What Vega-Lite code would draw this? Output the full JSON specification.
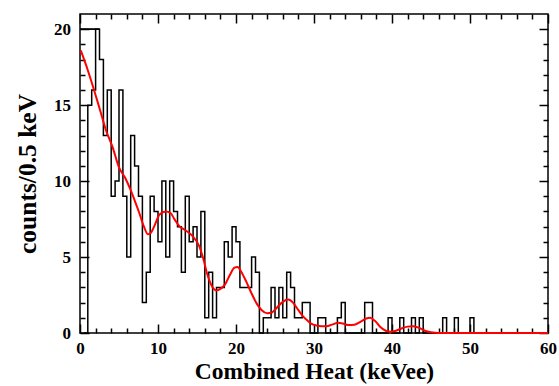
{
  "$schema": "https://vega.github.io/schema/vega-lite/v6.json",
  "width": 468,
  "height": 319,
  "autosize": {"type": "none"},
  "padding": {"left": 80, "top": 14, "right": 11, "bottom": 53},
  "background": "white",
  "config": {
    "view": {"stroke": "black", "strokeWidth": 1.5},
    "axis": {
      "domain": false, "grid": false, "tickColor": "black", "tickWidth": 1.5,
      "labelFont": "Liberation Serif", "labelFontWeight": "bold", "labelFontSize": 17, "labelColor": "black",
      "titleFont": "Liberation Serif", "titleFontWeight": "bold", "titleFontSize": 23.5, "titleColor": "black"
    }
  },
  "datasets": {
    "hist": [
      {"e": 0.5, "c": 0}, {"e": 1.0, "c": 15}, {"e": 1.5, "c": 16}, {"e": 2.0, "c": 20}, {"e": 2.5, "c": 18},
      {"e": 3.0, "c": 13}, {"e": 3.5, "c": 16}, {"e": 4.0, "c": 9}, {"e": 4.5, "c": 10}, {"e": 5.0, "c": 16},
      {"e": 5.5, "c": 9}, {"e": 6.0, "c": 5}, {"e": 6.5, "c": 13}, {"e": 7.0, "c": 11}, {"e": 7.5, "c": 9},
      {"e": 8.0, "c": 2}, {"e": 8.5, "c": 4}, {"e": 9.0, "c": 9}, {"e": 9.5, "c": 8}, {"e": 10.0, "c": 6},
      {"e": 10.5, "c": 10}, {"e": 11.0, "c": 5}, {"e": 11.5, "c": 10}, {"e": 12.0, "c": 8}, {"e": 12.5, "c": 7},
      {"e": 13.0, "c": 4}, {"e": 13.5, "c": 9}, {"e": 14.0, "c": 6}, {"e": 14.5, "c": 7}, {"e": 15.0, "c": 5},
      {"e": 15.5, "c": 8}, {"e": 16.0, "c": 1}, {"e": 16.5, "c": 4}, {"e": 17.0, "c": 1}, {"e": 17.5, "c": 3},
      {"e": 18.0, "c": 3}, {"e": 18.5, "c": 6}, {"e": 19.0, "c": 5}, {"e": 19.5, "c": 7}, {"e": 20.0, "c": 6},
      {"e": 20.5, "c": 3}, {"e": 21.0, "c": 3}, {"e": 21.5, "c": 3}, {"e": 22.0, "c": 5}, {"e": 22.5, "c": 4},
      {"e": 23.0, "c": 0}, {"e": 23.5, "c": 1}, {"e": 24.0, "c": 1}, {"e": 24.5, "c": 3}, {"e": 25.0, "c": 1},
      {"e": 25.5, "c": 3}, {"e": 26.0, "c": 1}, {"e": 26.5, "c": 4}, {"e": 27.0, "c": 3}, {"e": 27.5, "c": 1},
      {"e": 28.0, "c": 1}, {"e": 28.5, "c": 2}, {"e": 29.0, "c": 2}, {"e": 29.5, "c": 0}, {"e": 30.0, "c": 0},
      {"e": 30.5, "c": 1}, {"e": 31.0, "c": 1}, {"e": 31.5, "c": 0}, {"e": 32.0, "c": 0}, {"e": 32.5, "c": 0},
      {"e": 33.0, "c": 1}, {"e": 33.5, "c": 2}, {"e": 34.0, "c": 0}, {"e": 34.5, "c": 0}, {"e": 35.0, "c": 0},
      {"e": 35.5, "c": 0}, {"e": 36.0, "c": 0}, {"e": 36.5, "c": 2}, {"e": 37.0, "c": 2}, {"e": 37.5, "c": 0},
      {"e": 38.0, "c": 0}, {"e": 38.5, "c": 0}, {"e": 39.0, "c": 0}, {"e": 39.5, "c": 1}, {"e": 40.0, "c": 0},
      {"e": 40.5, "c": 0}, {"e": 41.0, "c": 1}, {"e": 41.5, "c": 0}, {"e": 42.0, "c": 0}, {"e": 42.5, "c": 1},
      {"e": 43.0, "c": 0}, {"e": 43.5, "c": 1}, {"e": 44.0, "c": 0}, {"e": 44.5, "c": 0}, {"e": 45.0, "c": 0},
      {"e": 45.5, "c": 0}, {"e": 46.0, "c": 0}, {"e": 46.5, "c": 1}, {"e": 47.0, "c": 0}, {"e": 47.5, "c": 0},
      {"e": 48.0, "c": 1}, {"e": 48.5, "c": 0}, {"e": 49.0, "c": 0}, {"e": 49.5, "c": 0}, {"e": 50.0, "c": 1},
      {"e": 50.5, "c": 0}, {"e": 60.0, "c": 0}
    ],
    "cap": [
      {"e": 0, "c": 20}, {"e": 2.5, "c": 20}
    ],
    "curve": [
      {"e": 0.1, "c": 18.6}, {"e": 1.0, "c": 17.3}, {"e": 1.8, "c": 16.0}, {"e": 2.5, "c": 14.8}, {"e": 3.3, "c": 13.4},
      {"e": 4.2, "c": 12.2}, {"e": 5.0, "c": 10.9}, {"e": 5.8, "c": 10.2}, {"e": 6.5, "c": 9.4}, {"e": 7.1, "c": 8.6},
      {"e": 7.6, "c": 7.9}, {"e": 8.2, "c": 7.0}, {"e": 8.7, "c": 6.5}, {"e": 9.1, "c": 6.6}, {"e": 9.5, "c": 7.0},
      {"e": 10.2, "c": 7.8}, {"e": 11.0, "c": 8.0}, {"e": 11.6, "c": 7.9}, {"e": 12.1, "c": 7.5}, {"e": 12.8, "c": 7.0},
      {"e": 13.4, "c": 6.8}, {"e": 14.4, "c": 6.4}, {"e": 15.3, "c": 5.7}, {"e": 15.8, "c": 4.9}, {"e": 16.3, "c": 3.9},
      {"e": 16.9, "c": 3.1}, {"e": 17.5, "c": 2.8}, {"e": 18.0, "c": 2.9}, {"e": 18.6, "c": 3.2}, {"e": 19.2, "c": 3.8},
      {"e": 19.8, "c": 4.3}, {"e": 20.2, "c": 4.35}, {"e": 20.7, "c": 4.0}, {"e": 21.3, "c": 3.4}, {"e": 22.0, "c": 2.6},
      {"e": 22.7, "c": 1.9}, {"e": 23.3, "c": 1.5}, {"e": 24.0, "c": 1.3}, {"e": 24.6, "c": 1.35}, {"e": 25.3, "c": 1.7},
      {"e": 26.0, "c": 2.05}, {"e": 26.7, "c": 2.2}, {"e": 27.3, "c": 2.0}, {"e": 28.0, "c": 1.5}, {"e": 28.6, "c": 1.1},
      {"e": 29.2, "c": 0.8}, {"e": 29.7, "c": 0.6}, {"e": 30.3, "c": 0.5}, {"e": 31.0, "c": 0.45}, {"e": 31.6, "c": 0.45},
      {"e": 32.3, "c": 0.55}, {"e": 33.1, "c": 0.68}, {"e": 33.7, "c": 0.62}, {"e": 34.4, "c": 0.52}, {"e": 35.2, "c": 0.55},
      {"e": 36.0, "c": 0.75}, {"e": 36.7, "c": 0.95}, {"e": 37.2, "c": 1.0}, {"e": 37.8, "c": 0.8}, {"e": 38.5, "c": 0.4},
      {"e": 39.2, "c": 0.15}, {"e": 39.8, "c": 0.08}, {"e": 40.5, "c": 0.15}, {"e": 41.2, "c": 0.3}, {"e": 42.0, "c": 0.42},
      {"e": 42.7, "c": 0.45}, {"e": 43.4, "c": 0.35}, {"e": 44.2, "c": 0.15}, {"e": 45.0, "c": 0.05}, {"e": 46.0, "c": 0},
      {"e": 60.0, "c": 0}
    ]
  },
  "layer": [
    {
      "data": {"name": "hist"},
      "mark": {"type": "line", "interpolate": "step-after", "color": "black", "strokeWidth": 1.5},
      "encoding": {
        "x": {"field": "e", "type": "quantitative", "scale": {"domain": [0, 60], "nice": false, "zero": false},
          "axis": {"orient": "bottom", "values": [0, 10, 20, 30, 40, 50, 60], "tickSize": -9, "labelPadding": 16, "labelFlush": false, "title": "Combined Heat (keVee)", "titlePadding": 3}},
        "y": {"field": "c", "type": "quantitative", "scale": {"domain": [0, 21], "nice": false},
          "axis": {"orient": "left", "values": [0, 5, 10, 15, 20], "tickSize": -9, "labelPadding": 18.5, "labelFlush": false, "title": "counts/0.5 keV", "titleFontSize": 25.5, "titlePadding": 13}}
      }
    },
    {
      "data": {"name": "cap"},
      "mark": {"type": "line", "color": "black", "strokeWidth": 1.5},
      "encoding": {
        "x": {"field": "e", "type": "quantitative", "scale": {"domain": [0, 60], "nice": false, "zero": false},
          "axis": {"orient": "bottom", "values": [2, 4, 6, 8, 12, 14, 16, 18, 22, 24, 26, 28, 32, 34, 36, 38, 42, 44, 46, 48, 52, 54, 56, 58], "tickSize": -5, "labels": false, "title": null}},
        "y": {"field": "c", "type": "quantitative", "scale": {"domain": [0, 21], "nice": false},
          "axis": {"orient": "left", "values": [1, 2, 3, 4, 6, 7, 8, 9, 11, 12, 13, 14, 16, 17, 18, 19], "tickSize": -5, "labels": false, "title": null}}
      }
    },
    {
      "data": {"name": "cap"},
      "mark": {"type": "line", "color": "black", "strokeWidth": 1.5},
      "encoding": {
        "x": {"field": "e", "type": "quantitative", "scale": {"domain": [0, 60], "nice": false, "zero": false},
          "axis": {"orient": "top", "values": [2, 4, 6, 8, 12, 14, 16, 18, 22, 24, 26, 28, 32, 34, 36, 38, 42, 44, 46, 48, 52, 54, 56, 58], "tickSize": -5, "labels": false, "title": null}},
        "y": {"field": "c", "type": "quantitative", "scale": {"domain": [0, 21], "nice": false},
          "axis": {"orient": "right", "values": [1, 2, 3, 4, 6, 7, 8, 9, 11, 12, 13, 14, 16, 17, 18, 19], "tickSize": -5, "labels": false, "title": null}}
      }
    },
    {
      "data": {"name": "curve"},
      "mark": {"type": "line", "interpolate": "monotone", "color": "#ff0000", "strokeWidth": 2},
      "encoding": {
        "x": {"field": "e", "type": "quantitative", "scale": {"domain": [0, 60], "nice": false, "zero": false},
          "axis": {"orient": "top", "values": [0, 10, 20, 30, 40, 50, 60], "tickSize": -9, "labels": false, "title": null}},
        "y": {"field": "c", "type": "quantitative", "scale": {"domain": [0, 21], "nice": false},
          "axis": {"orient": "right", "values": [0, 5, 10, 15, 20], "tickSize": -9, "labels": false, "title": null}}
      }
    }
  ],
  "resolve": {"axis": {"x": "independent", "y": "independent"}}
}
